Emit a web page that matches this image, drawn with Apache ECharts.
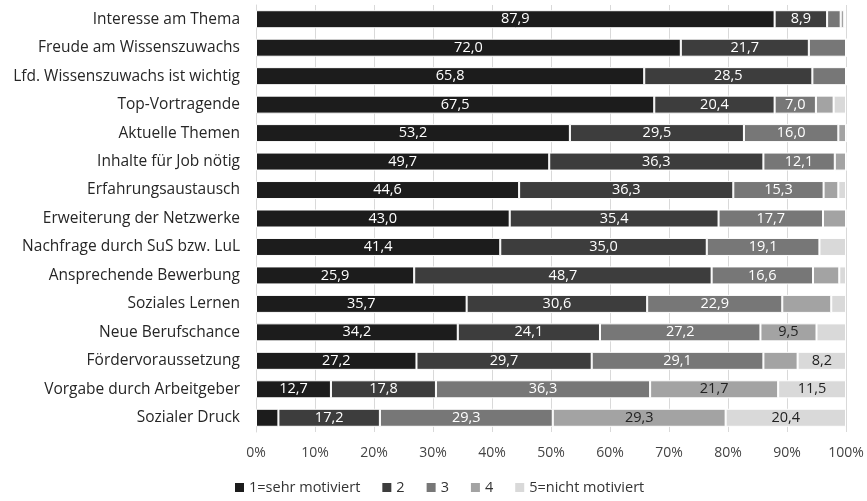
<!DOCTYPE html>
<html>
<head>
<meta charset="utf-8">
<style>
  html, body { margin: 0; padding: 0; background: #fff; }
  #chart { width: 867px; height: 501px; }
</style>
<script src="https://cdn.jsdelivr.net/npm/echarts@6/dist/echarts.min.js"></script>
</head>
<body>
<div id="chart"></div>
<script>
var categories = [
    "Interesse am Thema",
    "Freude am Wissenszuwachs",
    "Lfd. Wissenszuwachs ist wichtig",
    "Top-Vortragende",
    "Aktuelle Themen",
    "Inhalte für Job nötig",
    "Erfahrungsaustausch",
    "Erweiterung der Netzwerke",
    "Nachfrage durch SuS bzw. LuL",
    "Ansprechende Bewerbung",
    "Soziales Lernen",
    "Neue Berufschance",
    "Fördervoraussetzung",
    "Vorgabe durch Arbeitgeber",
    "Sozialer Druck"
];
var seriesNames = ["1=sehr motiviert", "2", "3", "4", "5=nicht motiviert"];
var s1 = [87.9, 72.0, 65.8, 67.5, 53.2, 49.7, 44.6, 43.0, 41.4, 25.9, 35.7, 34.2, 27.2, 12.7, 3.8];
var s2 = [8.9, 21.7, 28.5, 20.4, 29.5, 36.3, 36.3, 35.4, 35.0, 48.7, 30.6, 24.1, 29.7, 17.8, 17.2];
var s3 = [2.3, 6.3, 5.7, 7.0, 16.0, 12.1, 15.3, 17.7, 19.1, 16.6, 22.9, 27.2, 29.1, 36.3, 29.3];
var s4 = [0.6, 0, 0, 3.0, 1.3, 1.9, 2.5, 3.9, 0, 4.3, 8.3, 9.5, 5.8, 21.7, 29.3];
var s5 = [0.3, 0, 0, 2.1, 0, 0, 1.3, 0, 4.5, 1.1, 2.5, 5.0, 8.2, 11.5, 20.4];
var xTicks = ["0%", "10%", "20%", "30%", "40%", "50%", "60%", "70%", "80%", "90%", "100%"];

var colors = ["#1c1c1c", "#3d3d3d", "#777777", "#a3a3a3", "#d9d9d9"];
var labelColors = ["#fff", "#fff", "#fff", "#222", "#222"];
// labels the original chart leaves out
var hiddenLabels = { "Soziales Lernen": [3] };

var all = [s1, s2, s3, s4, s5];
// 100% stacked: every row is scaled to its own total
var totals = categories.map(function (c, i) {
    return all.reduce(function (a, s) { return a + s[i]; }, 0);
});

var font = "'Open Sans', sans-serif";

var series = all.map(function (vals, k) {
    return {
        name: seriesNames[k],
        type: 'bar',
        stack: 'all',
        barWidth: 18,
        itemStyle: { color: colors[k], borderColor: '#fff', borderWidth: 1 },
        data: vals.map(function (v, i) {
            var hide = (hiddenLabels[categories[i]] || []).indexOf(k) >= 0;
            return {
                value: v / totals[i] * 100,
                orig: v,
                label: { show: v >= 7 && !hide }
            };
        }),
        label: {
            position: 'inside',
            color: labelColors[k],
            fontFamily: font,
            fontSize: 14.5,
            formatter: function (p) {
                return p.data.orig.toFixed(1).replace('.', ',');
            }
        }
    };
});

var chart = echarts.init(document.getElementById('chart'));
chart.setOption({
    animation: false,
    color: colors,
    grid: { left: 256, right: 21, top: 5, bottom: 69, containLabel: false },
    xAxis: {
        type: 'value',
        min: 0,
        max: 100,
        interval: 10,
        axisLine: { show: false },
        axisTick: { show: false },
        splitLine: { show: true, lineStyle: { color: '#d9d9d9', width: 1 } },
        axisLabel: {
            margin: 14,
            color: '#444',
            fontFamily: font,
            fontSize: 14,
            formatter: function (v) { return xTicks[Math.round(v / 10)]; }
        }
    },
    yAxis: {
        type: 'category',
        inverse: true,
        data: categories,
        axisLine: { show: true, lineStyle: { color: '#d9d9d9' } },
        axisTick: { show: false },
        axisLabel: { margin: 16, color: '#262626', fontFamily: font, fontSize: 15.5 }
    },
    legend: {
        data: seriesNames,
        left: 230,
        bottom: 1,
        icon: 'rect',
        itemWidth: 9,
        itemHeight: 9,
        itemGap: 22,
        itemStyle: { borderWidth: 0 },
        textStyle: { color: '#333', fontFamily: font, fontSize: 14.5 }
    },
    series: series
});
</script>
</body>
</html>
